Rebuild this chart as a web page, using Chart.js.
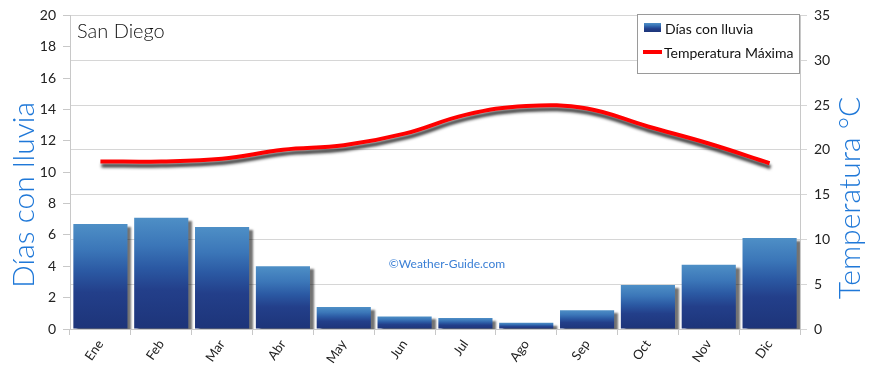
<!DOCTYPE html>
<html>
<head>
<meta charset="utf-8">
<script src="https://cdn.jsdelivr.net/npm/chart.js@4"></script>
<style>
    html, body { margin: 0; padding: 0; background: #fff; }
    #wrap { width: 870px; height: 365px; position: relative; }
</style>
</head>
<body>
<div id="wrap"><canvas id="canvasId"></canvas></div>
<script>
const months = ['Ene', 'Feb', 'Mar', 'Abr', 'May', 'Jun', 'Jul', 'Ago', 'Sep', 'Oct', 'Nov', 'Dic'];
const rainDays = [6.7, 7.1, 6.5, 4.0, 1.4, 0.8, 0.7, 0.4, 1.2, 2.8, 4.1, 5.8];
const maxTemp = [18.7, 18.7, 19.0, 20.0, 20.5, 21.8, 23.9, 24.9, 24.6, 22.6, 20.7, 18.5];

const FONT = 'Lato, "DejaVu Sans", sans-serif';
const BLUE_TITLE = '#1f78d8';

const barGradient = (ctx, base, top) => {
    const g = ctx.createLinearGradient(0, base, 0, top);
    g.addColorStop(0, '#1d3479');
    g.addColorStop(0.35, '#233f8a');
    g.addColorStop(0.55, '#2b59a3');
    g.addColorStop(0.75, '#3b76b8');
    g.addColorStop(1, '#4e8fc6');
    return g;
};

const barColor = (c) => {
    const chart = c.chart;
    if (!chart.chartArea || c.type !== 'data') return '#2b59a3';
    const ys = chart.scales.y;
    return barGradient(chart.ctx, ys.getPixelForValue(0), ys.getPixelForValue(c.raw));
};

const shadowPlugin = {
    id: 'shadows',
    beforeDatasetDraw(chart, args) {
        const ctx = chart.ctx;
        ctx.save();
        if (args.index === 0) {
            ctx.shadowColor = 'rgba(0,0,0,0.55)';
            ctx.shadowOffsetX = 4;
            ctx.shadowOffsetY = 3;
            ctx.shadowBlur = 2;
        } else {
            ctx.shadowColor = 'rgba(0,0,0,0.75)';
            ctx.shadowOffsetX = 1;
            ctx.shadowOffsetY = 4;
            ctx.shadowBlur = 3;
        }
    },
    afterDatasetDraw(chart) {
        chart.ctx.restore();
    }
};

const decorPlugin = {
    id: 'decor',
    afterDraw(chart) {
        const ctx = chart.ctx;
        ctx.save();

        // title
        ctx.fillStyle = '#111';
        ctx.font = '300 20px ' + FONT;
        ctx.textAlign = 'left';
        ctx.textBaseline = 'middle';
        ctx.fillText('San Diego', 77, 32);

        // watermark
        ctx.fillStyle = '#3a7fd5';
        ctx.font = '12px ' + FONT;
        ctx.textAlign = 'center';
        ctx.fillText('\u00A9Weather-Guide.com', 447, 264);

        // axis titles
        ctx.fillStyle = BLUE_TITLE;
        ctx.font = '300 30px ' + FONT;
        ctx.save();
        ctx.translate(24, 195);
        ctx.rotate(-Math.PI / 2);
        ctx.fillText('Días con lluvia', 0, 0);
        ctx.restore();
        ctx.save();
        ctx.translate(850, 198);
        ctx.rotate(-Math.PI / 2);
        ctx.fillText('Temperatura °C', 0, 0);
        ctx.restore();

        // legend
        ctx.fillStyle = '#fff';
        ctx.fillRect(637.5, 14.5, 162, 59);
        ctx.strokeStyle = '#9a9a9a';
        ctx.lineWidth = 1;
        ctx.strokeRect(637.5, 14.5, 162, 59);
        ctx.fillStyle = barGradient(ctx, 32, 23);
        ctx.fillRect(644, 23, 17, 9);
        ctx.strokeStyle = '#ff0000';
        ctx.lineWidth = 4;
        ctx.beginPath();
        ctx.moveTo(643, 52);
        ctx.lineTo(662, 52);
        ctx.stroke();
        ctx.fillStyle = '#111';
        ctx.font = '14px ' + FONT;
        ctx.textAlign = 'left';
        ctx.fillText('Días con lluvia', 665, 29);
        ctx.fillText('Temperatura Máxima', 664, 53);

        ctx.restore();
    }
};

const ctx = document.querySelector('#canvasId');

const config = {
    type: 'bar',
    data: {
        labels: months,
        datasets: [{
            type: 'bar',
            label: 'Días con lluvia',
            data: rainDays,
            yAxisID: 'y',
            backgroundColor: barColor,
            borderWidth: 0,
            categoryPercentage: 1,
            barPercentage: 0.89,
            order: 2,
        }, {
            type: 'line',
            label: 'Temperatura Máxima',
            data: maxTemp,
            yAxisID: 'y1',
            borderColor: '#ff0000',
            borderWidth: 4,
            tension: 0.4,
            pointRadius: 0,
            fill: false,
            order: 1,
        }],
    },
    options: {
        responsive: true,
        maintainAspectRatio: false,
        animation: false,
        layout: { padding: { top: 10, left: 0, right: 0, bottom: 0 } },
        plugins: {
            legend: { display: false },
            tooltip: { enabled: false },
        },
        scales: {
            x: {
                offset: true,
                grid: {
                    display: true,
                    drawOnChartArea: false,
                    offset: true,
                    tickLength: 6,
                    color: '#c8c8c8',
                },
                border: { color: '#c8c8c8' },
                ticks: {
                    minRotation: 55,
                    maxRotation: 55,
                    color: '#222',
                    font: { family: FONT, size: 13 },
                    padding: 2,
                },
                afterFit: (s) => { s.height = 36; },
            },
            y: {
                position: 'left',
                min: 0,
                max: 20,
                ticks: {
                    stepSize: 2,
                    color: '#222',
                    font: { family: FONT, size: 14 },
                    padding: 7,
                },
                grid: {
                    drawOnChartArea: false,
                    tickLength: 7,
                    color: '#c8c8c8',
                },
                border: { color: '#c8c8c8' },
                afterFit: (s) => { s.width = 70; },
            },
            y1: {
                position: 'right',
                min: 0,
                max: 35,
                ticks: {
                    stepSize: 5,
                    color: '#222',
                    font: { family: FONT, size: 14 },
                    padding: 7,
                },
                grid: {
                    color: '#d6d6d6',
                    tickLength: 7,
                },
                border: { color: '#c8c8c8' },
                afterFit: (s) => { s.width = 70; },
            },
        },
    },
    plugins: [shadowPlugin, decorPlugin],
};

const chart = new Chart(ctx, config);
</script>
</body>
</html>
